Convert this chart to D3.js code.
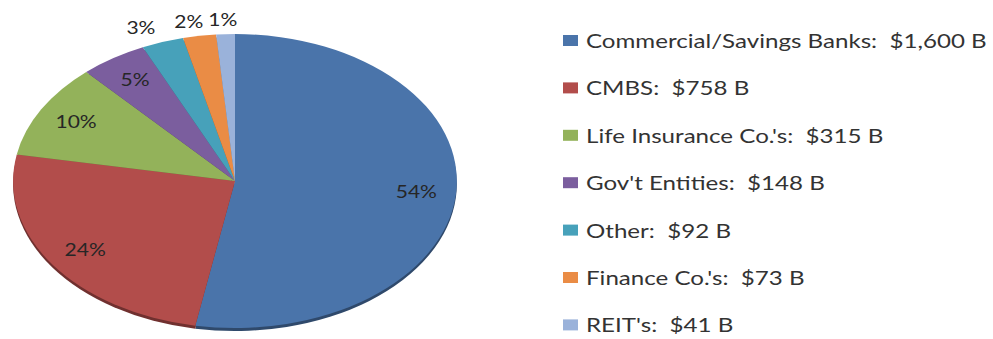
<!DOCTYPE html>
<html>
<head>
<meta charset="utf-8">
<script src="https://cdn.jsdelivr.net/npm/d3@7"></script>
<style>
  html, body { margin: 0; padding: 0; background: #fff; }
  svg { display: block; }
  text { font-family: Lato, "Open Sans", sans-serif; font-weight: 400; white-space: pre; }
</style>
</head>
<body>
<svg id="chart" width="993" height="339"></svg>
<script>
// Commercial real estate debt outstanding by holder ($ billions)
const categories = [
  "Commercial/Savings Banks",
  "CMBS",
  "Life Insurance Co.'s",
  "Gov't Entities",
  "Other",
  "Finance Co.'s",
  "REIT's"
];
const amounts = [1600, 758, 315, 148, 92, 73, 41];
const percentLabels = ["54%", "24%", "10%", "5%", "3%", "2%", "1%"];
const colors = ["#4A74AA", "#B24D4B", "#93B25A", "#7B5E9E", "#47A1BA", "#EA8C45", "#9AB2DA"];

const svg = d3.select("#chart");

// Tilted pie: an ellipse with a thin front wall
const cx = 235, cy = 181, rx = 222, ry = 147, depth = 3;

const pie = d3.pie().sort(null).value(d => d);
const arcs = pie(amounts);
const arc = d3.arc().innerRadius(0).outerRadius(1);

const pieG = svg.append("g");

// side wall (darker copy shifted down)
pieG.append("g")
  .attr("transform", `translate(${cx},${cy + depth}) scale(${rx},${ry})`)
  .selectAll("path")
  .data(arcs)
  .join("path")
  .attr("d", arc)
  .attr("fill", (d, i) => d3.color(colors[i]).darker(1.3));

// top face
pieG.append("g")
  .attr("transform", `translate(${cx},${cy}) scale(${rx},${ry})`)
  .selectAll("path")
  .data(arcs)
  .join("path")
  .attr("d", arc)
  .attr("fill", (d, i) => colors[i]);

// Legend
const fmt = d3.format(",");
const legendX = 563, legendY0 = 41, legendStep = 47.4;
const legendTextTarget = 401; // width of the widest entry
const legend = svg.append("g");

const items = legend.selectAll("g")
  .data(categories)
  .join("g")
  .attr("transform", (d, i) => `translate(${legendX},${legendY0 + i * legendStep})`);

items.append("rect")
  .attr("x", 0).attr("y", -6)
  .attr("width", 15).attr("height", 11)
  .attr("fill", (d, i) => colors[i]);

const legendTexts = items.append("text")
  .attr("x", 0)
  .attr("dy", "0.36em")
  .attr("font-size", 19.5)
  .attr("fill", "#333333")
  .text((d, i) => `${d}:  $${fmt(amounts[i])} B`);

// horizontal stretch of the text, as in the slide layout
const widest = legendTexts.nodes()[0].getComputedTextLength();
const sx = legendTextTarget / widest;
legendTexts.attr("transform", `translate(23,0) scale(${sx},1)`);

// Percentage labels
const labels = svg.append("g");
arcs.forEach((a, i) => {
  const mid = (a.startAngle + a.endAngle) / 2;
  const share = (a.endAngle - a.startAngle) / (2 * Math.PI);
  const outside = share < 0.04;
  let x, y;
  if (outside) {
    x = cx + rx * 1.3 * Math.sin(mid);
    y = cy - ry * 1.1 * Math.cos(mid);
  } else {
    x = cx + rx * 0.82 * Math.sin(mid);
    y = cy - ry * 0.82 * Math.cos(mid);
  }
  labels.append("text")
    .attr("transform", `translate(${x},${y}) scale(${sx},1)`)
    .attr("text-anchor", "middle")
    .attr("dy", "0.36em")
    .attr("font-size", 17)
    .attr("fill", "#262626")
    .text(percentLabels[i]);
});
</script>
</body>
</html>
